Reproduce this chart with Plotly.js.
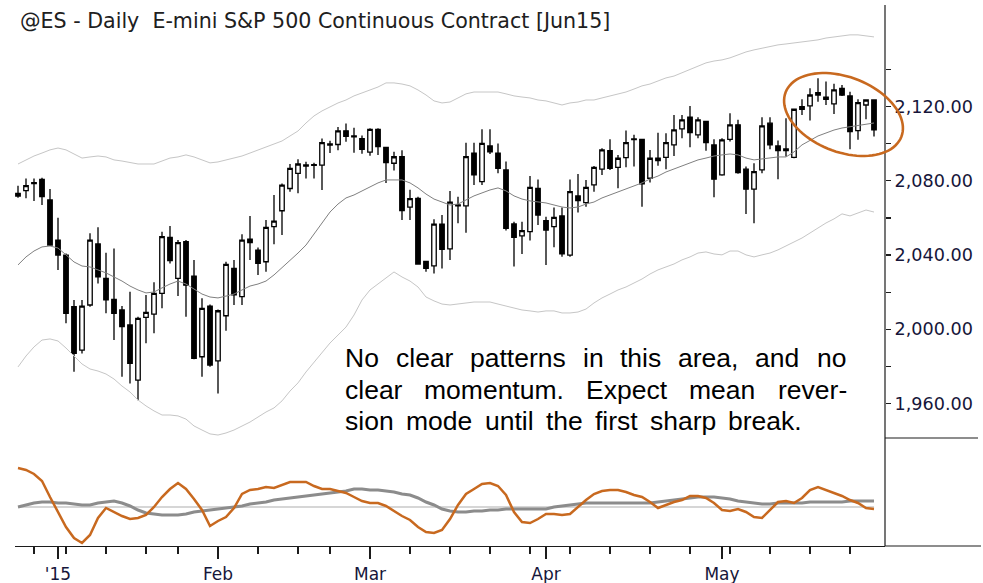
<!DOCTYPE html>
<html><head><meta charset="utf-8">
<script src="https://cdn.plot.ly/plotly-3.0.1.min.js"></script>
<style>html,body{margin:0;padding:0;background:#fff;}#chart{width:983px;height:583px;}</style>
</head><body><div id="chart"></div>
<script>
// ---- data ----
const dates = [
'2014-12-24','2014-12-26','2014-12-29','2014-12-30','2014-12-31',
'2015-01-02','2015-01-05','2015-01-06','2015-01-07','2015-01-08','2015-01-09',
'2015-01-12','2015-01-13','2015-01-14','2015-01-15','2015-01-16',
'2015-01-20','2015-01-21','2015-01-22','2015-01-23',
'2015-01-26','2015-01-27','2015-01-28','2015-01-29','2015-01-30',
'2015-02-02','2015-02-03','2015-02-04','2015-02-05','2015-02-06',
'2015-02-09','2015-02-10','2015-02-11','2015-02-12','2015-02-13',
'2015-02-17','2015-02-18','2015-02-19','2015-02-20',
'2015-02-23','2015-02-24','2015-02-25','2015-02-26','2015-02-27',
'2015-03-02','2015-03-03','2015-03-04','2015-03-05','2015-03-06',
'2015-03-09','2015-03-10','2015-03-11','2015-03-12','2015-03-13',
'2015-03-16','2015-03-17','2015-03-18','2015-03-19','2015-03-20',
'2015-03-23','2015-03-24','2015-03-25','2015-03-26','2015-03-27',
'2015-03-30','2015-03-31','2015-04-01','2015-04-02','2015-04-03',
'2015-04-06','2015-04-07','2015-04-08','2015-04-09','2015-04-10',
'2015-04-13','2015-04-14','2015-04-15','2015-04-16','2015-04-17',
'2015-04-20','2015-04-21','2015-04-22','2015-04-23','2015-04-24',
'2015-04-27','2015-04-28','2015-04-29','2015-04-30','2015-05-01',
'2015-05-04','2015-05-05','2015-05-06','2015-05-07','2015-05-08',
'2015-05-11','2015-05-12','2015-05-13','2015-05-14','2015-05-15',
'2015-05-18','2015-05-19','2015-05-20','2015-05-21','2015-05-22',
'2015-05-26','2015-05-27','2015-05-28','2015-05-29'];

const openP = [2073.3,2074.7,2079.0,2080.8,2069.7,2048.1,2040.0,2012.2,1988.8,2013.1,
2046.0,2027.4,2016.1,2010.4,2002.3,1972.6,2006.4,2008.2,2019.4,2049.5,
2027.4,2047.2,2028.7,1985.2,2012.5,1983.0,2007.3,2032.8,2017.6,2048.6,
2042.7,2036.4,2055.3,2063.9,2075.9,2084.0,2088.6,2088.7,2088.5,2099.3,
2099.6,2107.0,2104.2,2102.7,2095.5,2107.8,2098.0,2089.5,2093.1,2065.8,
2070.6,2036.6,2034.2,2056.7,2043.3,2067.0,2066.5,2094.9,2079.6,2098.8,
2094.9,2085.9,2056.8,2050.3,2052.6,2076.0,2058.5,2055.3,2061.1,2040.0,
2071.9,2068.3,2077.8,2086.3,2096.3,2087.3,2092.5,2102.6,2102.4,2081.4,
2092.2,2092.7,2099.4,2108.0,2114.3,2104.8,2112.0,2099.4,2083.2,2102.4,
2110.2,2086.3,2075.5,2085.9,2111.1,2098.8,2097.2,2092.7,2120.0,2120.4,
2127.6,2125.1,2121.5,2129.9,2125.8,2107.1,2120.9,2123.6];
const highP = [2077.4,2081.3,2081.3,2081.7,2075.6,2060.1,2040.9,2015.8,2015.8,2051.7,
2055.0,2041.3,2043.6,2012.5,2020.2,2006.8,2018.5,2025.3,2052.6,2055.7,
2048.1,2048.1,2037.3,2016.7,2013.4,2010.7,2036.4,2037.3,2051.2,2061.0,
2044.1,2058.9,2072.4,2078.6,2089.1,2091.6,2090.3,2089.8,2102.9,2101.6,
2109.0,2110.9,2108.6,2104.5,2108.3,2108.3,2098.2,2095.7,2096.5,2075.2,
2071.5,2037.0,2059.3,2061.6,2074.5,2071.5,2100.6,2100.6,2107.8,2107.8,
2100.2,2090.4,2058.0,2058.0,2082.6,2080.8,2060.7,2065.7,2065.7,2080.8,
2083.7,2080.5,2088.0,2097.6,2102.4,2094.0,2107.1,2104.8,2102.6,2096.7,
2106.0,2105.7,2115.5,2115.5,2120.4,2114.3,2112.2,2102.4,2103.0,2116.4,
2112.9,2087.7,2089.5,2114.3,2114.3,2101.7,2113.8,2118.6,2124.0,2129.9,
2135.3,2133.5,2132.3,2131.7,2128.1,2124.0,2124.0,2124.0];
const lowP = [2070.9,2070.6,2069.1,2067.0,2044.9,2031.9,2003.2,1977.1,1987.0,2012.2,
2024.7,2008.6,1994.2,1974.4,1970.8,1961.8,1992.5,1997.8,2011.3,2035.5,
2017.9,2006.8,1983.8,1974.4,1979.8,1965.4,1999.2,2013.1,2013.1,2037.3,
2029.2,2031.0,2045.9,2050.8,2074.2,2073.3,2081.3,2081.3,2075.1,2095.0,
2096.5,2101.1,2095.1,2094.6,2093.5,2094.0,2078.8,2085.6,2058.9,2058.9,
2034.8,2031.0,2030.1,2032.8,2037.3,2057.1,2052.1,2077.8,2077.8,2094.5,
2084.1,2053.2,2033.8,2040.6,2047.8,2056.2,2034.7,2044.2,2039.1,2039.1,
2062.9,2066.1,2074.2,2083.2,2085.9,2076.0,2087.3,2087.7,2066.1,2079.1,
2088.1,2086.3,2093.4,2103.0,2098.1,2103.0,2096.3,2071.2,2082.7,2101.2,
2083.8,2062.2,2057.2,2084.1,2097.0,2080.9,2093.1,2092.2,2115.5,2112.5,
2122.7,2120.9,2116.1,2125.8,2097.0,2102.1,2113.2,2103.9];
const closeP = [2071.8,2077.4,2078.5,2071.5,2045.4,2040.0,2008.6,1987.0,2012.5,2048.1,
2028.3,2015.8,2008.6,2001.4,1981.6,2005.9,2009.1,2019.4,2049.9,2037.0,
2046.7,2023.8,1984.3,2011.3,1980.7,2010.0,2035.0,2018.5,2048.1,2046.7,
2035.5,2054.9,2058.3,2077.7,2086.7,2089.1,2088.0,2088.3,2100.6,2099.9,
2107.0,2104.0,2103.7,2097.0,2107.8,2098.5,2089.8,2093.0,2064.0,2070.4,
2035.2,2032.9,2056.7,2043.1,2068.5,2066.5,2093.1,2083.2,2100.2,2095.7,
2086.8,2054.4,2049.6,2053.2,2076.5,2061.6,2053.5,2060.3,2040.6,2074.2,
2069.3,2076.5,2087.3,2096.7,2086.8,2092.2,2100.6,2102.2,2078.4,2092.2,
2090.9,2100.6,2107.5,2112.9,2106.0,2112.9,2100.6,2080.9,2102.1,2110.2,
2084.5,2075.5,2085.0,2109.6,2099.4,2096.3,2096.3,2118.6,2118.6,2126.3,
2126.3,2124.0,2129.0,2126.3,2106.6,2122.2,2123.6,2107.5];

const movingAvg = [2034.7,2039.0,2042.2,2044.4,2044.9,2043.8,2040.1,2036.3,2034.1,2033.6,
2032.0,2030.4,2028.2,2026.0,2023.3,2021.2,2019.6,2020.1,2022.3,2024.4,
2026.0,2024.4,2021.7,2019.0,2017.4,2016.9,2017.9,2019.0,2021.2,2023.3,
2024.4,2026.0,2029.3,2033.1,2036.8,2041.1,2045.4,2051.4,2057.8,2063.2,
2067.5,2070.8,2072.4,2074.6,2076.7,2078.9,2080.5,2080.5,2080.5,2078.9,
2076.2,2072.9,2070.2,2068.6,2067.0,2067.5,2069.7,2071.9,2073.5,2075.1,
2076.2,2074.6,2071.9,2070.2,2069.2,2068.6,2068.1,2067.0,2065.9,2065.4,
2065.9,2067.5,2068.6,2070.8,2072.4,2074.0,2075.6,2077.2,2078.9,2081.0,
2082.6,2084.8,2086.4,2088.0,2089.6,2091.3,2092.3,2093.4,2094.0,2094.5,
2094.0,2092.3,2091.3,2091.8,2092.3,2092.9,2092.9,2095.6,2099.4,2102.0,
2104.2,2105.8,2107.4,2108.5,2109.1,2110.1,2110.7,2111.2];
const upperBand = [2089.1,2091.3,2093.4,2095.0,2096.7,2097.7,2096.7,2094.5,2092.3,2092.9,
2093.4,2092.9,2091.3,2090.7,2089.7,2089.1,2089.1,2089.1,2090.7,2092.3,
2092.9,2094.0,2092.9,2091.3,2089.7,2090.2,2091.3,2092.3,2093.4,2095.0,
2096.7,2098.3,2099.9,2101.5,2104.2,2106.9,2111.2,2115.0,2117.7,2119.8,
2122.0,2123.6,2125.8,2127.4,2129.0,2130.6,2132.8,2132.8,2132.2,2131.2,
2129.0,2126.3,2123.1,2122.0,2122.5,2124.7,2126.9,2127.9,2127.9,2127.9,
2127.9,2126.9,2125.8,2125.2,2124.7,2123.6,2123.1,2122.0,2120.9,2122.0,
2122.5,2123.6,2123.6,2124.7,2125.8,2126.9,2127.9,2129.5,2131.2,2132.2,
2133.9,2135.5,2136.5,2138.2,2139.8,2141.9,2143.6,2144.6,2145.2,2146.3,
2147.9,2149.5,2150.6,2151.6,2152.2,2153.3,2153.8,2154.3,2154.9,2155.4,
2156.0,2157.0,2157.6,2158.1,2158.7,2158.7,2158.1,2157.6];
const lowerBand = [1979.7,1985.6,1990.5,1994.2,1994.8,1993.7,1989.9,1985.6,1981.3,1978.6,
1977.5,1975.9,1973.2,1969.4,1966.2,1961.9,1958.7,1956.0,1953.8,1953.8,
1953.3,1951.6,1947.9,1945.7,1943.6,1943.0,1944.1,1945.7,1947.9,1950.0,
1952.7,1955.4,1957.6,1961.4,1966.7,1971.1,1977.0,1982.4,1987.2,1992.6,
1996.9,2001.2,2007.7,2015.8,2021.2,2024.4,2027.7,2030.9,2028.2,2026.0,
2022.8,2017.4,2015.3,2013.6,2013.1,2013.6,2014.2,2014.7,2014.7,2014.7,
2013.6,2012.6,2011.5,2010.4,2009.9,2009.3,2009.9,2009.9,2008.8,2008.8,
2009.3,2010.9,2014.2,2016.9,2019.0,2021.2,2022.8,2025.0,2027.1,2029.8,
2032.0,2033.6,2035.2,2037.4,2039.0,2041.1,2041.7,2040.6,2040.1,2042.2,
2042.2,2040.1,2039.0,2040.1,2041.1,2042.8,2044.9,2047.1,2049.2,2051.9,
2054.6,2057.3,2059.5,2062.2,2061.1,2062.7,2064.3,2063.2];

const oscFast = [39,37,33,26,10,-5,-20,-31,-36,-28,
-11,-1,-5,-9,-12,-11,-8,0,10,18,
24,18,8,-3,-19,-14,-10,-1,13,17,
18,20,19,22,25,25,25,21,18,18,
16,14,10,6,4,4,1,-4,-9,-13,
-20,-25,-26,-23,-12,2,13,18,23,24,
21,12,-5,-15,-16,-12,-7,-7,-8,-7,
0,7,13,16,17,17,15,12,10,5,
-1,2,5,7,11,11,9,4,-3,-4,
-2,-5,-10,-11,-3,5,6,4,9,17,
20,17,14,11,7,4,-1,-2];
const oscSlow = [0,2,4,5,5,4,4,3,2,2,
4,5,6,4,1,-3,-6,-7,-8,-8,
-8,-7,-5,-4,-3,-2,-1,0,1,3,
4,5,7,8,9,10,11,12,13,14,
15,16,18,18,17,17,16,15,13,12,
9,5,2,-2,-4,-5,-5,-4,-4,-3,
-3,-2,-2,-2,-2,-2,-2,0,1,2,
3,4,4,4,4,4,4,4,4,4,
5,6,7,8,9,10,10,10,9,8,
6,5,4,3,3,4,4,4,4,5,
5,5,5,5,6,6,6,6];
const oscZero = dates.map(() => 0);

const monthTickDates = ['2015-01-02','2015-02-02','2015-03-02','2015-04-01','2015-05-01'];
const monthTickLabels = ["'15",'Feb','Mar','Apr','May'];
const weekTickDates = ['2014-12-29','2015-01-05','2015-01-12','2015-01-20','2015-01-26',
'2015-02-09','2015-02-17','2015-02-23','2015-03-09','2015-03-16','2015-03-23','2015-03-30',
'2015-04-06','2015-04-13','2015-04-20','2015-04-27','2015-05-04','2015-05-11','2015-05-18','2015-05-26'];
const priceTicks = [1960,1980,2000,2020,2040,2060,2080,2100,2120,2140];
const priceTickLabels = ['1,960.00','','2,000.00','','2,040.00','','2,080.00','','2,120.00',''];

const titleText = '@ES - Daily\u00A0 E-mini S&P 500 Continuous Contract [Jun15]';
const noteLines = ['No clear patterns in this area, and no',
                   'clear momentum. Expect mean rever-',
                   'sion mode until the first sharp break.'];

// ---- geometry ----
const W = 983, H = 583, ML = 15, MR = 98, MT = 5, MB = 37;
const PW = W - ML - MR, PH = H - MT - MB;
const pxX = p => (p - ML) / PW;
const pxY = p => 1 - (p - MT) / PH;

const ORANGE = '#c8691f';
const INK = '#1c1c1c';

// ellipse highlight
let ell = '';
{
  const cx = 843.5, cy = 114.5, a = 62, b = 37.5, th = 21 * Math.PI / 180;
  for (let k = 0; k <= 90; k++) {
    const t = 2 * Math.PI * k / 90;
    const x = cx + a * Math.cos(t) * Math.cos(th) - b * Math.sin(t) * Math.sin(th);
    const y = cy + a * Math.cos(t) * Math.sin(th) + b * Math.sin(t) * Math.cos(th);
    ell += (k ? 'L' : 'M') + pxX(x).toFixed(5) + ',' + pxY(y).toFixed(5);
  }
  ell += 'Z';
}

// justified note text, word by word
const noteSize = 26.5;
const noteFont = noteSize + 'px "Liberation Sans"';
const lineStart = 344, lineEnds = [845, 846, 801], lineMid = [358, 390, 421];
const cnv = document.createElement('canvas').getContext('2d');
cnv.font = noteFont;
const noteAnns = [];
noteLines.forEach((ln, li) => {
  const words = ln.split(' ');
  const ws = words.map(w => cnv.measureText(w).width);
  const total = ws.reduce((s, v) => s + v, 0);
  const gap = (lineEnds[li] - lineStart - total) / (words.length - 1);
  let x = lineStart;
  words.forEach((w, wi) => {
    noteAnns.push({text: w, xref: 'paper', yref: 'paper', x: pxX(x), y: pxY(lineMid[li]),
      xanchor: 'left', yanchor: 'middle', showarrow: false, borderpad: 0,
      font: {family: 'Liberation Sans, Arial, sans-serif', size: noteSize, color: '#000'}});
    x += ws[wi] + gap;
  });
});

const traces = [
  {type: 'scatter', mode: 'lines', x: dates, y: upperBand, line: {color: '#c6c6c6', width: 1}, hoverinfo: 'skip', xaxis: 'x', yaxis: 'y'},
  {type: 'scatter', mode: 'lines', x: dates, y: lowerBand, line: {color: '#c6c6c6', width: 1}, hoverinfo: 'skip', xaxis: 'x', yaxis: 'y'},
  {type: 'scatter', mode: 'lines', x: dates, y: movingAvg, line: {color: '#808080', width: 1}, hoverinfo: 'skip', xaxis: 'x', yaxis: 'y'},
  {type: 'candlestick', x: dates, open: openP, high: highP, low: lowP, close: closeP,
   increasing: {line: {color: '#000', width: 1.3}, fillcolor: '#fff'},
   decreasing: {line: {color: '#000', width: 1.3}, fillcolor: '#000'},
   whiskerwidth: 0, xaxis: 'x', yaxis: 'y'},
  {type: 'scatter', mode: 'lines', x: dates, y: oscZero, line: {color: '#c8c8c8', width: 1.5}, hoverinfo: 'skip', xaxis: 'x', yaxis: 'y2'},
  {type: 'scatter', mode: 'lines', x: dates, y: oscSlow, line: {color: '#8c8c8c', width: 3}, hoverinfo: 'skip', xaxis: 'x', yaxis: 'y2'},
  {type: 'scatter', mode: 'lines', x: dates, y: oscFast, line: {color: ORANGE, width: 2.5}, hoverinfo: 'skip', xaxis: 'x', yaxis: 'y2'}
];

const layout = {
  width: W, height: H, margin: {l: ML, r: MR, t: MT, b: MB},
  paper_bgcolor: '#fff', plot_bgcolor: '#fff', showlegend: false,
  font: {family: 'DejaVu Sans, sans-serif', color: '#16163a'},
  boxgap: 0.2,
  title: {text: titleText, x: 20 / W, xanchor: 'left', xref: 'container', y: 1 - 21 / H, yanchor: 'middle', yref: 'container',
          font: {family: 'DejaVu Sans, sans-serif', size: 20.6, color: '#202020'}},
  xaxis: {type: 'category', range: [-0.375, 108.375], anchor: 'y2', domain: [0, 1],
          showline: true, linecolor: INK, linewidth: 1.2, mirror: false,
          ticks: 'outside', ticklen: 12, tickwidth: 1.2, tickcolor: INK,
          tickmode: 'array', tickvals: monthTickDates, ticktext: monthTickLabels,
          tickfont: {size: 17, color: '#16163a'},
          minor: {tickmode: 'array', tickvals: weekTickDates, ticks: 'outside', ticklen: 7, tickwidth: 1.2, tickcolor: INK, showgrid: false},
          showgrid: false, zeroline: false, rangeslider: {visible: false}, fixedrange: true},
  yaxis: {domain: [pxY(438), 1], anchor: 'x', side: 'right', range: [1941.4, 2174.8],
          showline: false, ticks: 'outside', ticklen: 5, tickwidth: 1.2, tickcolor: INK,
          tickmode: 'array', tickvals: priceTicks, ticktext: priceTickLabels,
          tickfont: {size: 17.6, color: '#16163a'}, showgrid: false, zeroline: false, fixedrange: true},
  yaxis2: {domain: [0, pxY(455)], anchor: 'x', side: 'right', range: [-39, 52],
           showline: false, showticklabels: false, ticks: '', showgrid: false, zeroline: false, fixedrange: true},
  shapes: [
    {type: 'line', xref: 'paper', yref: 'paper', x0: 1, x1: 1, y0: 0, y1: 1, line: {color: INK, width: 1.2}},
    {type: 'line', xref: 'paper', yref: 'paper', x0: 1, x1: pxX(978), y0: pxY(438), y1: pxY(438), line: {color: INK, width: 1.2}},
    {type: 'line', xref: 'paper', yref: 'paper', x0: 1, x1: pxX(981), y0: 0, y1: 0, line: {color: INK, width: 1.2}},
    {type: 'path', xref: 'paper', yref: 'paper', path: ell, line: {color: ORANGE, width: 2.6}}
  ],
  annotations: noteAnns
};

Plotly.newPlot('chart', traces, layout, {staticPlot: true, displayModeBar: false});
</script>
</body></html>
